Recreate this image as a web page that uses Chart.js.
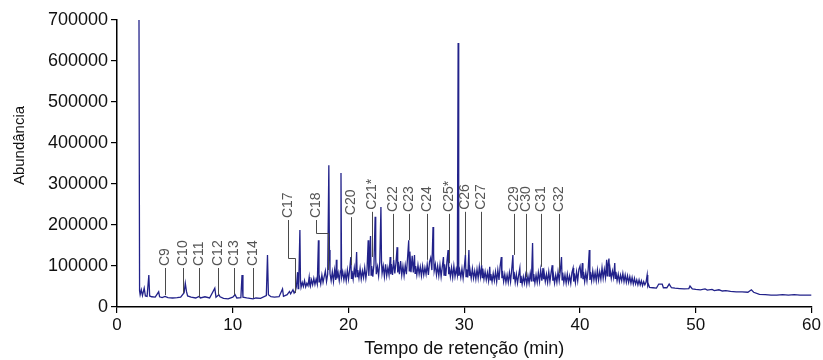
<!DOCTYPE html>
<html>
<head>
<meta charset="utf-8">
<script src="https://cdn.jsdelivr.net/npm/chart.js@4.4.1/dist/chart.umd.min.js"></script>
<style>
  html, body { margin: 0; padding: 0; background: #fff; }
  #wrap { width: 823px; height: 360px; }
</style>
</head>
<body>
<div id="wrap"><canvas id="c" width="823" height="360"></canvas></div>
<script>
// ---- Data: [retention time (min), abundance] ----
const signal = [
  [1.9, 700000], [1.95, 40000], [2.0, 30000], [2.1, 42000], [2.2, 28000], [2.35, 46000], [2.45, 27000],
  [2.6, 26000], [2.75, 78000], [2.82, 27000], [3.0, 25000], [3.3, 24000], [3.6, 37000], [3.68, 25000],
  [3.9, 23000], [4.15, 26000], [4.4, 23000], [4.8, 22000], [5.2, 23000], [5.5, 24000], [5.8, 35000],
  [5.9, 58000], [6.0, 38000], [6.1, 27000], [6.4, 24000], [6.8, 22000], [7.1, 26000], [7.2, 22000],
  [7.6, 25000], [8.0, 22000], [8.45, 46000], [8.55, 24000], [8.8, 30000], [8.9, 25000], [9.2, 21000],
  [9.6, 20000], [10.0, 24000], [10.2, 30000], [10.35, 22000], [10.7, 23000], [10.8, 78000], [10.88, 24000],
  [11.2, 22000], [11.75, 20000], [12.0, 22000], [12.4, 21000], [12.9, 28000], [13.0, 127000], [13.08, 30000],
  [13.3, 25000], [13.6, 24000], [14.0, 25000], [14.3, 44000], [14.38, 26000], [14.7, 30000], [14.9, 38000],
  [15.0, 32000], [15.2, 42000], [15.3, 34000],
  [15.4, 38000], [15.5, 50000], [15.6, 85000], [15.65, 45000], [15.7, 58000], [15.8, 188000], [15.85, 62000],
  [15.9, 48000], [16.0, 60000], [16.1, 50000], [16.2, 64000], [16.3, 49000], [16.4, 58000], [16.5, 52000],
  [16.6, 73000], [16.65, 55000], [16.7, 50000], [16.8, 66000], [16.9, 54000], [17.0, 70000], [17.1, 55000],
  [17.2, 68000], [17.3, 56000], [17.4, 163000], [17.45, 60000], [17.5, 72000], [17.6, 56000], [17.7, 78000],
  [17.8, 60000], [17.9, 74000], [18.0, 88000], [18.1, 62000], [18.2, 80000], [18.3, 346000], [18.35, 139000],
  [18.4, 82000], [18.5, 64000], [18.6, 86000], [18.7, 62000], [18.8, 90000], [18.9, 66000], [18.95, 115000],
  [19.0, 70000], [19.1, 84000], [19.2, 64000], [19.3, 88000], [19.35, 327000], [19.4, 72000], [19.5, 86000],
  [19.6, 66000], [19.7, 84000], [19.8, 64000], [19.9, 90000],
  [20.0, 68000], [20.1, 92000], [20.2, 122000], [20.25, 70000], [20.3, 88000], [20.4, 68000], [20.5, 95000],
  [20.6, 72000], [20.7, 134000], [20.75, 74000], [20.8, 90000], [20.9, 70000], [21.0, 94000], [21.1, 68000],
  [21.2, 88000], [21.3, 72000], [21.4, 96000], [21.5, 70000], [21.6, 92000], [21.7, 163000], [21.75, 76000],
  [21.8, 98000], [21.9, 173000], [21.95, 78000], [22.0, 100000], [22.1, 74000], [22.2, 105000], [22.3, 220000],
  [22.35, 120000], [22.4, 80000], [22.5, 98000], [22.6, 76000], [22.7, 110000], [22.8, 244000], [22.85, 110000],
  [22.9, 82000], [23.0, 100000], [23.1, 74000], [23.2, 104000], [23.3, 76000], [23.4, 96000], [23.5, 78000],
  [23.6, 122000], [23.65, 80000], [23.7, 105000], [23.8, 78000], [23.9, 115000], [24.0, 82000], [24.1, 108000],
  [24.2, 146000], [24.25, 84000], [24.3, 110000], [24.4, 80000], [24.5, 112000], [24.6, 78000], [24.7, 100000],
  [24.8, 76000], [24.9, 102000], [25.0, 80000], [25.1, 120000], [25.2, 163000], [25.25, 88000], [25.3, 135000],
  [25.4, 85000], [25.5, 125000], [25.6, 84000], [25.7, 127000], [25.75, 82000], [25.8, 100000], [25.9, 78000],
  [26.0, 102000], [26.1, 80000], [26.2, 98000], [26.3, 76000], [26.4, 100000], [26.5, 78000], [26.6, 96000],
  [26.7, 80000], [26.8, 104000], [26.9, 78000], [27.0, 110000], [27.1, 120000], [27.2, 90000], [27.3, 195000],
  [27.35, 130000], [27.4, 88000], [27.5, 104000], [27.6, 78000], [27.7, 100000], [27.8, 76000], [27.9, 102000],
  [28.0, 74000], [28.1, 98000], [28.2, 122000], [28.25, 78000], [28.3, 104000], [28.4, 76000], [28.5, 110000],
  [28.6, 139000], [28.65, 80000], [28.7, 98000], [28.8, 74000], [28.9, 96000], [29.0, 72000], [29.1, 100000],
  [29.2, 74000], [29.3, 92000], [29.4, 78000], [29.47, 644000], [29.52, 76000], [29.6, 90000], [29.7, 72000],
  [29.8, 94000], [29.9, 70000],
  [30.0, 96000], [30.1, 127000], [30.15, 74000], [30.2, 92000], [30.3, 72000], [30.4, 139000], [30.45, 76000],
  [30.5, 90000], [30.6, 70000], [30.7, 94000], [30.8, 70000], [30.9, 88000], [31.0, 68000], [31.1, 92000],
  [31.2, 70000], [31.3, 98000], [31.4, 74000], [31.5, 102000], [31.55, 72000], [31.6, 94000], [31.7, 68000],
  [31.8, 86000], [31.9, 66000], [32.0, 84000], [32.1, 64000], [32.2, 98000], [32.25, 66000], [32.3, 80000],
  [32.4, 62000], [32.5, 82000], [32.6, 64000], [32.7, 86000], [32.8, 62000], [32.9, 90000], [33.0, 66000],
  [33.1, 100000], [33.2, 122000], [33.25, 70000], [33.3, 88000], [33.4, 62000], [33.5, 80000], [33.6, 60000],
  [33.7, 78000], [33.8, 60000], [33.9, 84000], [34.0, 62000], [34.1, 92000], [34.2, 127000], [34.25, 68000],
  [34.3, 86000], [34.4, 60000], [34.5, 80000], [34.6, 58000], [34.7, 78000], [34.8, 95000], [34.85, 60000],
  [34.9, 76000], [35.0, 56000], [35.1, 74000], [35.2, 58000], [35.3, 78000], [35.4, 56000], [35.5, 76000],
  [35.6, 58000], [35.7, 82000], [35.8, 62000], [35.9, 156000], [35.95, 64000], [36.0, 80000], [36.1, 58000],
  [36.2, 78000], [36.3, 60000], [36.4, 84000], [36.5, 62000], [36.6, 90000], [36.7, 64000], [36.8, 95000],
  [36.85, 68000], [36.9, 84000], [37.0, 62000], [37.1, 80000], [37.2, 60000], [37.3, 86000], [37.4, 62000],
  [37.5, 84000], [37.6, 102000], [37.65, 64000], [37.7, 80000], [37.8, 58000], [37.9, 78000], [38.0, 60000],
  [38.1, 86000], [38.2, 64000], [38.3, 90000], [38.4, 122000], [38.45, 66000], [38.5, 84000], [38.6, 60000],
  [38.7, 78000], [38.8, 58000], [38.9, 80000], [39.0, 60000], [39.1, 76000], [39.2, 58000], [39.3, 84000],
  [39.4, 95000], [39.45, 62000], [39.5, 82000], [39.6, 60000], [39.7, 86000], [39.8, 64000], [39.9, 92000],
  [40.0, 100000], [40.1, 70000], [40.2, 107000], [40.25, 68000], [40.3, 86000], [40.4, 62000], [40.5, 84000],
  [40.6, 64000], [40.7, 90000], [40.8, 139000], [40.85, 66000], [40.9, 86000], [41.0, 64000], [41.1, 88000],
  [41.2, 66000], [41.3, 84000], [41.4, 64000], [41.5, 90000], [41.6, 66000], [41.7, 86000], [41.8, 68000],
  [41.9, 96000], [42.0, 70000], [42.1, 92000], [42.2, 72000], [42.3, 115000], [42.35, 76000], [42.4, 100000],
  [42.5, 118000], [42.55, 74000], [42.6, 92000], [42.7, 70000], [42.8, 88000], [42.9, 72000], [43.0, 107000],
  [43.05, 70000], [43.1, 86000], [43.2, 64000], [43.3, 80000], [43.4, 62000], [43.5, 78000], [43.6, 64000],
  [43.7, 82000], [43.8, 62000], [43.9, 78000], [44.0, 60000], [44.1, 76000], [44.2, 60000], [44.3, 74000],
  [44.4, 58000], [44.5, 72000], [44.6, 56000], [44.7, 70000], [44.8, 56000], [44.9, 66000], [45.0, 54000],
  [45.1, 66000], [45.2, 54000], [45.3, 64000], [45.4, 52000], [45.5, 62000], [45.6, 54000], [45.7, 60000],
  [45.8, 78000], [45.85, 52000], [45.9, 56000], [46.0, 48000],
  [46.3, 47000], [46.6, 46000], [46.8, 56000], [47.1, 56000], [47.2, 47000], [47.5, 47000], [47.7, 56000],
  [47.9, 47000], [48.2, 46000], [48.6, 45000], [49.0, 44000], [49.4, 45000], [49.5, 51000], [49.7, 44000],
  [50.0, 43000], [50.4, 42000], [50.8, 44000], [51.0, 41000], [51.4, 43000], [51.6, 40000], [52.0, 42000],
  [52.3, 39000], [52.6, 40000], [53.0, 38000], [53.5, 37000], [54.0, 37000], [54.5, 36000], [54.8, 42000],
  [55.0, 36000], [55.5, 31000], [56.0, 30000], [56.5, 29000], [57.0, 29000], [57.5, 30000], [58.0, 29000],
  [58.5, 30000], [59.0, 29000], [59.5, 29000], [60.0, 29000]
];

// ---- Peak labels (n-alkanes) ----
const peakNames   = ['C9','C10','C11','C12','C13','C14','C17','C18','C20','C21*','C22','C23','C24','C25*','C26','C27','C29','C30','C31','C32'];
const labelTimes  = [4.15, 5.7, 7.1, 8.75, 10.1, 11.75, 14.77, 17.2, 20.2, 22.0, 23.85, 25.2, 26.8, 28.7, 30.05, 31.43, 34.3, 35.3, 36.6, 38.2];
const peakTimes   = [4.15, 5.7, 7.1, 8.75, 10.1, 11.75, 15.37, 18.2, 20.2, 22.0, 23.85, 25.2, 26.8, 28.7, 30.05, 31.43, 34.3, 35.3, 36.6, 38.2];
const labelLevels = [100000, 100000, 100000, 100000, 100000, 100000, 217000, 217000, 224000, 237000, 232000, 232000, 232000, 232000, 237000, 237000, 232000, 232000, 232000, 232000];
const elbowLevels = [null, null, null, null, null, null, 120000, 180000, null, null, null, null, null, null, null, null, null, null, null, null];
const peakEnds    = [29000, 34000, 24000, 29000, 29000, 22000, 34000, 90000, 102000, 122000, 115000, 163000, 115000, 107000, 127000, 102000, 127000, 73000, 98000, 83000];

// ---- Axis ticks and titles ----
const xTicks = [0, 10, 20, 30, 40, 50, 60];
const yTicks = [0, 100000, 200000, 300000, 400000, 500000, 600000, 700000];
const xTitle = 'Tempo de retenção (min)';
const yTitle = 'Abundância';

const FONT = '"Liberation Sans", Arial, sans-serif';

const peakLabelPlugin = {
  id: 'peakLabels',
  afterDatasetsDraw(chart) {
    const ctx = chart.ctx, xs = chart.scales.x, ys = chart.scales.y;
    ctx.save();
    ctx.strokeStyle = '#4a4a4a';
    ctx.lineWidth = 1;
    ctx.fillStyle = '#555';
    ctx.font = '14px ' + FONT;
    peakNames.forEach((name, i) => {
      const lx = Math.round(xs.getPixelForValue(labelTimes[i])) + 0.5;
      const px = Math.round(xs.getPixelForValue(peakTimes[i])) + 0.5;
      const ly = ys.getPixelForValue(labelLevels[i]);
      const ey = ys.getPixelForValue(peakEnds[i]);
      ctx.beginPath();
      ctx.moveTo(lx, ly + 2);
      if (elbowLevels[i] !== null) {
        const by = Math.round(ys.getPixelForValue(elbowLevels[i])) + 0.5;
        ctx.lineTo(lx, by);
        ctx.lineTo(px, by);
      }
      ctx.lineTo(px, ey);
      ctx.stroke();
      ctx.save();
      ctx.translate(lx, ly);
      ctx.rotate(-Math.PI / 2);
      ctx.textAlign = 'left';
      ctx.textBaseline = 'middle';
      ctx.fillText(name, 0, 0);
      ctx.restore();
    });
    // y-axis title, placed slightly above the plot's vertical centre as in the source figure
    ctx.save();
    ctx.fillStyle = '#111';
    ctx.font = '15px ' + FONT;
    ctx.translate(20, (chart.chartArea.top + chart.chartArea.bottom) / 2 - 18);
    ctx.rotate(-Math.PI / 2);
    ctx.textAlign = 'center';
    ctx.textBaseline = 'middle';
    ctx.fillText(yTitle, 0, 0);
    ctx.restore();
    ctx.restore();
  }
};

new Chart(document.getElementById('c'), {
  type: 'line',
  data: {
    datasets: [{
      data: signal.map(p => ({ x: p[0], y: p[1] })),
      borderColor: '#22228a',
      borderWidth: 1.3,
      pointRadius: 0,
      tension: 0,
      fill: false
    }]
  },
  options: {
    responsive: false,
    animation: false,
    devicePixelRatio: 1,
    layout: { padding: { top: 20, right: 11, left: 0, bottom: 0 } },
    plugins: { legend: { display: false }, tooltip: { enabled: false } },
    scales: {
      x: {
        type: 'linear', min: 0, max: 60,
        afterBuildTicks: s => { s.ticks = xTicks.map(v => ({ value: v })); },
        afterFit: s => { s.height = 53; },
        ticks: { color: '#111', font: { family: FONT, size: 17 }, padding: 2, maxRotation: 0, callback: v => String(v) },
        grid: { drawOnChartArea: false, drawTicks: true, tickLength: 6, color: '#000', lineWidth: 1.2 },
        border: { color: '#000', width: 1.5 },
        title: { display: true, text: xTitle, color: '#111', font: { family: FONT, size: 18 }, padding: { top: 0, bottom: 0 } }
      },
      y: {
        type: 'linear', min: 0, max: 700000,
        afterBuildTicks: s => { s.ticks = yTicks.map(v => ({ value: v })); },
        afterFit: s => { s.width = 117; },
        ticks: { color: '#111', font: { family: FONT, size: 18 }, padding: 3, callback: v => String(v) },
        grid: { drawOnChartArea: false, drawTicks: true, tickLength: 6, color: '#000', lineWidth: 1.2 },
        border: { color: '#000', width: 1.5 },
        title: { display: false }
      }
    }
  },
  plugins: [peakLabelPlugin]
});
</script>
</body>
</html>
